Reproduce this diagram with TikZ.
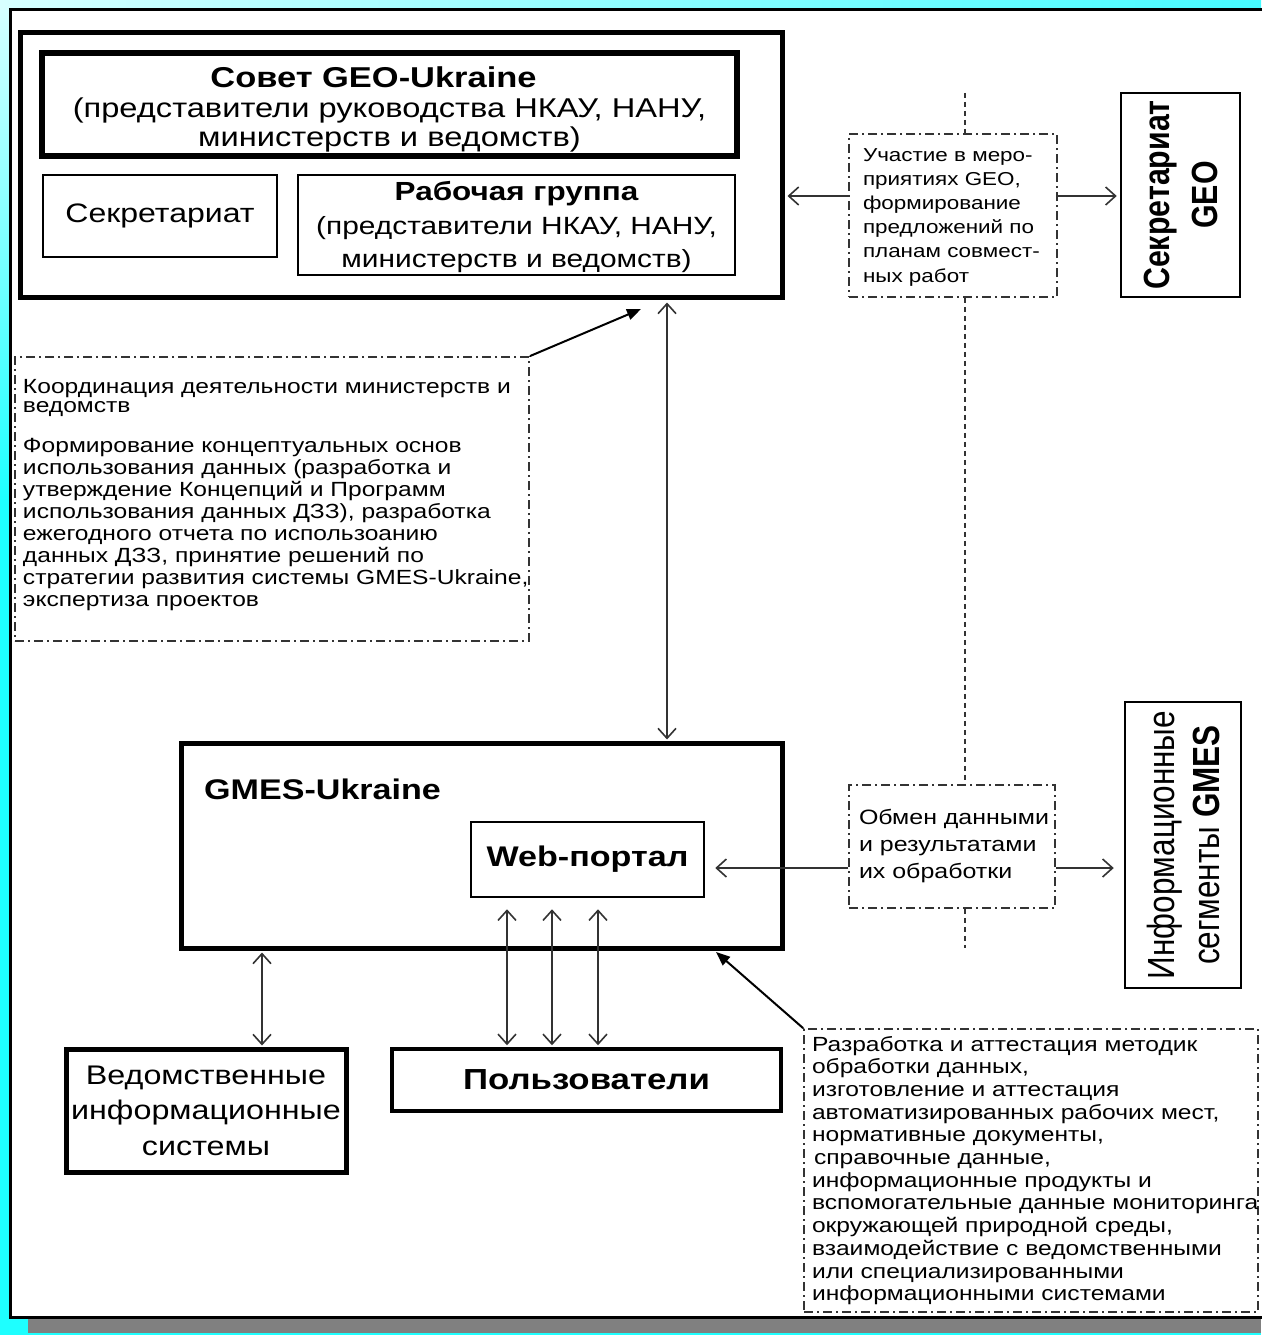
\documentclass[tikz,border=0pt]{standalone}
\usepackage{fontspec}
\setmainfont{Liberation Sans}[FakeStretch=1.2]
\newfontfamily\rotfont{Liberation Sans}[FakeStretch=0.833]
\usetikzlibrary{arrows.meta}
\newcommand\myfs[2]{\fontsize{#1}{#2}\selectfont}
\definecolor{cyanA}{RGB}{30,255,255}
\definecolor{cyanL}{RGB}{215,255,255}
\definecolor{cyanR}{RGB}{70,250,255}
\definecolor{shadowgray}{RGB}{128,128,128}
\begin{document}
\begin{tikzpicture}[x=1pt,y=-1pt,
 bx/.style={draw, line width=2.5pt, inner sep=0pt, align=center},
 bxthick/.style={draw, line width=5pt, inner sep=0pt, align=center},
 dd/.style={draw=black!80, line width=1.8pt, dash pattern=on 9pt off 4pt on 2pt off 4pt, inner sep=0pt, align=left},
 conn/.style={draw=black!80, line width=1.6pt},
 oarr/.style={conn, -{Straight Barb[length=10pt,width=18pt]}},
 darr/.style={conn, {Straight Barb[length=10pt,width=18pt]}-{Straight Barb[length=10pt,width=18pt]}},
 farr/.style={draw=black, line width=2pt, -{Triangle[length=14pt,width=11pt]}},
 dotl/.style={draw=black!80, line width=2.5pt, dash pattern=on 5pt off 4pt}
]
% background
\useasboundingbox (0,0) rectangle (1261,1335);
\fill[cyanA] (0,0) rectangle (1261,1335);
\shade[top color=cyanL, bottom color=cyanA] (0,0) rectangle (12,500);
\shade[left color=cyanL, right color=cyanR] (0,0) rectangle (1261,10);
\fill[shadowgray] (28,1318) rectangle (1261,1333);
\fill[white] (10,10) rectangle (1265,1317);
\draw[line width=3pt] (1265,10) -- (10,10) -- (10,1317) -- (1265,1317);

% top block
\node[bxthick, minimum width=762pt, minimum height=264pt] (geo) at (401,165) {};
\node[draw, line width=6pt, inner sep=0pt, align=center, minimum width=695pt, minimum height=103pt,
  font={\myfs{27.2}{29.5}}] (sovet) at (389.5,104.5)
  {\rule{0pt}{31pt}{\bfseries\myfs{28.7}{29.5}Совет GEO-Ukraine}\hspace*{32pt}\\(представители руководства НКАУ, НАНУ,\\министерств и ведомств)};
\node[bx, minimum width=234pt, minimum height=82pt, font={\myfs{26.7}{30}}] (sekr) at (160,216) {Секретариат};
\node[bx, minimum width=437pt, minimum height=100pt, font={\myfs{24.9}{33.5}}] (rg) at (516.5,225)
  {\rule{0pt}{24pt}{\bfseries\myfs{26.2}{33.5}Рабочая группа}\\(представители НКАУ, НАНУ,\\министерств и ведомств)};

\node[dd, minimum width=208pt, minimum height=163pt, text width=180pt, font={\myfs{18.7}{24.2}}] (uch) at (953,215.5)
  {\rule{0pt}{16pt}Участие в меро-\\приятиях GEO,\\формирование\\предложений по\\планам совмест-\\ных работ};
\node[bx, rotate=90, minimum width=204pt, minimum height=119pt, font={\rotfont\myfs{36.4}{48}\bfseries}] (sgeo) at (1180.5,195)
  {Секретариат\\GEO};

\node[dd, minimum width=514pt, minimum height=284pt, text width=498pt, font={\myfs{20.5}{22}}] (coord) at (272,499)
  {Координация деятельности министерств и\\[-3pt]ведомств\\[18pt]Формирование концептуальных основ\\использования данных (разработка и\\утверждение Концепций и Программ\\использования данных ДЗЗ), разработка\\ежегодного отчета по использоанию\\данных ДЗЗ, принятие решений по\\\mbox{стратегии развития системы GMES-Ukraine,}\\экспертиза проектов\rule[-12pt]{0pt}{12pt}};

% GMES block
\node[bxthick, minimum width=601pt, minimum height=205pt] (gmes) at (481.5,845.5) {};
\node[anchor=west, inner sep=0pt, font={\myfs{28.4}{30}\bfseries}] (gmeslbl) at (204,789) {GMES-Ukraine};
\node[bx, minimum width=233pt, minimum height=75pt, font={\myfs{28.4}{30}\bfseries}] (web) at (587.5,859.5) {Web-портал};
\node[dd, minimum width=206pt, minimum height=123pt, text width=186pt, font={\myfs{20.8}{27}}] (obm) at (952,846.5)
  {\mbox{Обмен данными}\\и результатами\\их обработки};
\node[bx, rotate=90, minimum width=286pt, minimum height=116pt, font={\rotfont\myfs{37.8}{45}}] (isg) at (1183,845)
  {Информационные\\сегменты \textbf{GMES}};

\node[bxthick, minimum width=280pt, minimum height=123pt, font={\myfs{26.9}{35.5}}] (ved) at (206,1110.5)
  {Ведомственные\\информационные\\системы};
\node[draw, line width=3.5pt, inner sep=0pt, minimum width=389pt, minimum height=62pt, font={\myfs{29}{30}\bfseries}] (pol) at (586.5,1080) {Пользователи};
\node[dd, minimum width=454pt, minimum height=283pt, text width=438pt, font={\myfs{20.5}{22.7}}] (razr) at (1031,1170.5)
  {Разработка и аттестация методик\\обработки данных,\\изготовление и аттестация\\автоматизированных рабочих мест,\\нормативные документы,\\\hspace*{2pt}справочные данные,\\информационные продукты и\\\mbox{вспомогательные данные мониторинга}\\окружающей природной среды,\\взаимодействие с ведомственными\\или специализированными\\информационными системами};

% coordinates
\coordinate (geoin) at (641,309);
\coordinate (gmesin) at (716,952);
\coordinate (dtop) at (965,93);
\coordinate (dbot) at (965,948);

% connectors
\draw[oarr, shorten >=3pt] (uch.west |- 0,196) -- (geo.east |- 0,196);
\draw[oarr, shorten >=3pt] (uch.east |- 0,196) -- (sgeo.north |- 0,196);
\draw[farr] (coord.north east) -- (geoin);
\draw[darr, shorten <=3pt, shorten >=1pt] (geo.south -| 667,0) -- (gmes.north -| 667,0);
\draw[oarr, shorten >=10pt] (obm.west |- 0,868) -- (web.east |- 0,868);
\draw[oarr, shorten >=10pt] (obm.east |- 0,868) -- (isg.north |- 0,868);
\foreach \xx in {507,552,598}
  \draw[darr, shorten <=11pt, shorten >=2pt] (web.south -| \xx,0) -- (pol.north -| \xx,0);
\draw[darr, shorten <=2pt, shorten >=1pt] (gmes.south -| 262,0) -- (ved.north -| 262,0);
\draw[farr] (razr.north west) -- (gmesin);
\draw[dotl] (dtop) -- (uch.north -| dtop);
\draw[dotl] (uch.south -| dtop) -- (obm.north -| dtop);
\draw[dotl] (obm.south -| dtop) -- (dbot);
\end{tikzpicture}
\end{document}
